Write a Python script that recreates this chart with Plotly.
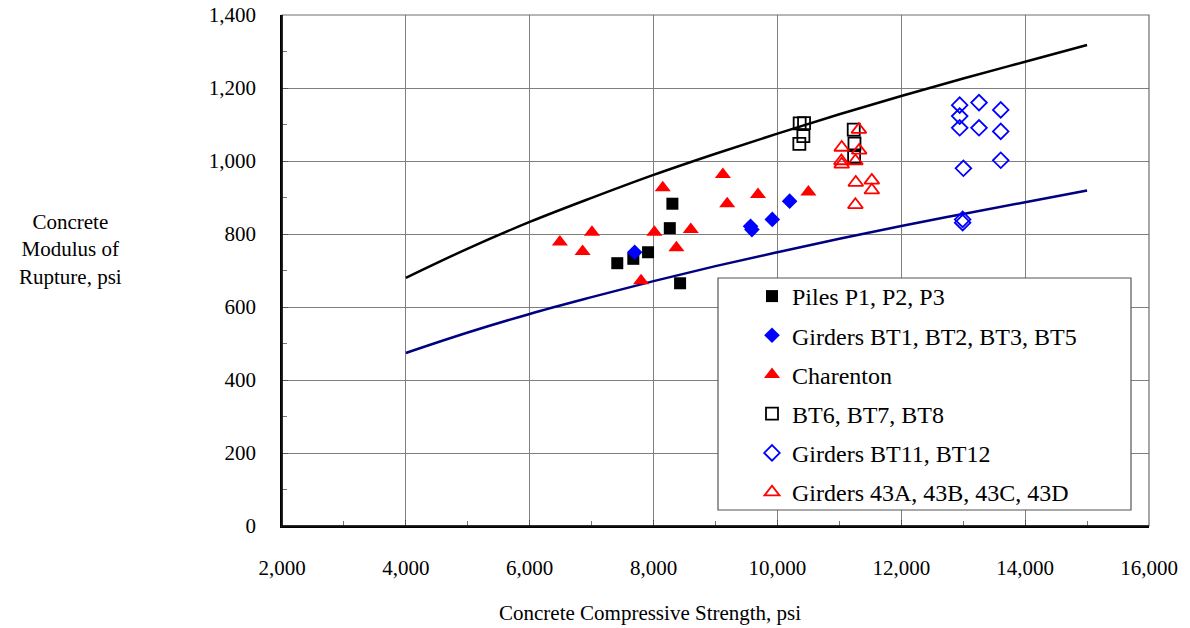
import plotly.graph_objects as go

# Curves
curve_x = [4000, 5000, 6000, 7000, 8000, 9000, 10000, 11000, 12000, 13000, 14000, 15000]
upper_y = [680, 760, 833, 899, 962, 1020, 1075, 1128, 1178, 1226, 1272, 1318]
lower_y = [474, 530, 581, 627, 671, 712, 750, 787, 822, 855, 887, 919]

# Piles P1, P2, P3
piles_x = [8304, 8262, 7911, 7673, 7414, 8428]
piles_y = [883, 816, 750, 732, 720, 665]

# Girders BT1, BT2, BT3, BT5
bt1_x = [7695, 10197, 9917, 9566, 9588]
bt1_y = [750, 890, 840, 821, 812]

# Charenton
char_x = [8148, 9189, 7005, 6487, 6854, 8013, 8601, 8369, 7798, 10500, 9686, 9119]
char_y = [927, 883, 805, 778, 752, 805, 812, 762, 672, 915, 908, 963]

# BT6, BT7, BT8
bt6_x = [10359, 10430, 10419, 10354, 11232, 11244, 11238]
bt6_y = [1103, 1104, 1068, 1047, 1086, 1048, 1011]

# Girders BT11, BT12
bt11_x = [12943, 13255, 13606, 12943, 12943, 13255, 13606, 13606, 13003, 12991, 12991]
bt11_y = [1153, 1160, 1140, 1123, 1091, 1091, 1081, 1002, 980, 840, 831]

# Girders 43A, 43B, 43C, 43D
g43_x = [11315, 11038, 11320, 11033, 11038, 11259, 11265, 11524, 11524, 11259]
g43_y = [1086, 1037, 1029, 1000, 991, 1000, 941, 947, 920, 880]

x_ticks = [2000, 4000, 6000, 8000, 10000, 12000, 14000, 16000]
y_ticks = [0, 200, 400, 600, 800, 1000, 1200, 1400]

FONT = "Liberation Serif, Times New Roman, serif"

W, H = 1190, 628
PL, PR, PT, PB = 282, 1149, 15, 526  # plot area in window pixels
MR, MB = W - PR, H - PB
PW, PH = PR - PL, PB - PT


def px(xw):
    return (xw - PL) / PW


def py(yw):
    return 1 - (yw - PT) / PH


fig = go.Figure()
fig.add_trace(go.Scatter(x=curve_x, y=upper_y, mode="lines", line=dict(color="black", width=2.5),
                         showlegend=False, line_shape="spline", hoverinfo="skip"))
fig.add_trace(go.Scatter(x=curve_x, y=lower_y, mode="lines", line=dict(color="#000080", width=2.5),
                         showlegend=False, line_shape="spline", hoverinfo="skip"))

series = [
    ("Piles P1, P2, P3", piles_x, piles_y, "square", "black", 12),
    ("Girders BT1, BT2, BT3, BT5", bt1_x, bt1_y, "diamond", "#0000ff", 12),
    ("Charenton", char_x, char_y, "triangle-up", "#ff0000", 14),
    ("BT6, BT7, BT8", bt6_x, bt6_y, "square-open", "black", 12),
    ("Girders BT11, BT12", bt11_x, bt11_y, "diamond-open", "#0000ff", 12),
    ("Girders 43A, 43B, 43C, 43D", g43_x, g43_y, "triangle-up-open", "#ff0000", 13),
]
for i, (name, xs, ys, sym, col, sz) in enumerate(series):
    fig.add_trace(go.Scatter(
        x=xs, y=ys, mode="markers", name=name, legendgroup=f"g{i}",
        marker=dict(symbol=sym, color=col, size=sz,
                    line=dict(color=col, width=1.8 if "open" in sym else 0)),
    ))

axis_common = dict(
    showline=True, linecolor="black", linewidth=1.5, mirror=False,
    showgrid=True, gridcolor="#7f7f7f", gridwidth=1,
    ticks="inside", ticklen=6, tickcolor="#555555",
    zeroline=False, tickfont=dict(family=FONT, size=21, color="black"),
    tickformat=",d", automargin=False, ticklabeloverflow="allow",
)

fig.update_xaxes(range=[2000, 16000], tickvals=x_ticks, ticklabelstandoff=22,
                 minor=dict(dtick=1000, ticks="inside", ticklen=5, tickcolor="#777777", showgrid=False),
                 **axis_common)
fig.update_yaxes(range=[0, 1400], tickvals=y_ticks, ticklabelstandoff=20,
                 minor=dict(dtick=100, ticks="inside", ticklen=5, tickcolor="#777777", showgrid=False),
                 **axis_common)

# plot frame (top/right) and legend box
fig.add_shape(type="rect", xref="paper", yref="paper", x0=0, x1=1, y0=0, y1=1,
              line=dict(color="#6e6e6e", width=1.2), layer="above")
fig.add_shape(type="line", xref="paper", yref="paper", x0=0, x1=0, y0=0, y1=1,
              line=dict(color="black", width=1.5), layer="above")
fig.add_shape(type="line", xref="paper", yref="paper", x0=0, x1=1, y0=0, y1=0,
              line=dict(color="black", width=1.5), layer="above")
fig.add_shape(type="rect", xref="paper", yref="paper", x0=px(718), x1=px(1131), y0=py(510), y1=py(278),
              line=dict(color="#555555", width=1.2), fillcolor="white", layer="above")

fig.add_annotation(text="Concrete<br>Modulus of<br>Rupture, psi", xref="paper", yref="paper",
                   x=px(70), y=py(249), showarrow=False,
                   font=dict(family=FONT, size=21, color="black"), align="center",
                   xanchor="center", yanchor="middle")
fig.add_annotation(text="Concrete Compressive Strength, psi", xref="paper", yref="paper",
                   x=px(650), y=py(613), showarrow=False,
                   font=dict(family=FONT, size=21, color="black"),
                   xanchor="center", yanchor="middle")

fig.update_layout(
    width=W, height=H,
    margin=dict(l=PL, r=MR, t=PT, b=MB, autoexpand=False),
    paper_bgcolor="white", plot_bgcolor="white",
    font=dict(family=FONT, size=21, color="black"),
    legend=dict(x=px(752), y=py(274), xanchor="left", yanchor="top",
                bgcolor="rgba(0,0,0,0)", borderwidth=0, tracegroupgap=5,
                font=dict(family=FONT, size=24, color="black")),
)

fig.write_html("out.html", config={"displayModeBar": False},
               post_script="document.body.style.margin='0';document.body.style.overflow='hidden';")
